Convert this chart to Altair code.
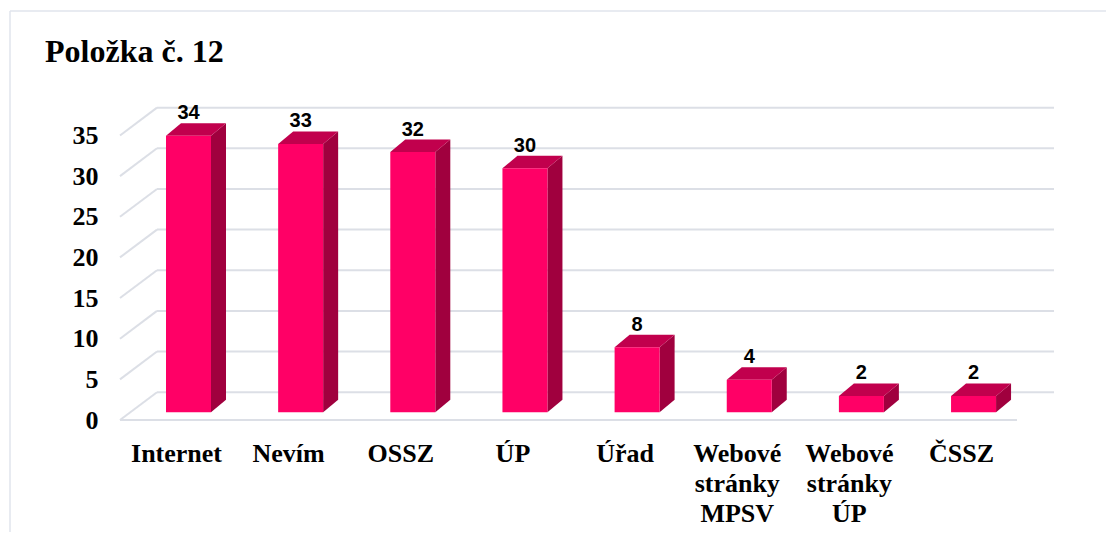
import altair as alt
import pandas as pd

# ---------------- data ----------------
categories = ["Internet", "Nevím", "OSSZ", "ÚP", "Úřad",
              "Webové\nstránky\nMPSV", "Webové\nstránky\nÚP", "ČSSZ"]
values = [34, 33, 32, 30, 8, 4, 2, 2]
y_ticks = [0, 5, 10, 15, 20, 25, 30, 35]
title_text = "Položka č. 12"

# ---------------- geometry (pixel-based layout constants) ----------------
W, H = 934, 312
STEP_PX = 112.15          # px per category
PX_PER_UNIT = 8.13        # px per value unit
X_MIN = (120 - 188.5) / STEP_PX
X_MAX = X_MIN + W / STEP_PX
Y_MAX = H / PX_PER_UNIT
FLOOR_DX = 37 / STEP_PX
FLOOR_DY = 27.8 / PX_PER_UNIT
FLOOR_END = (1017 - 188.5) / STEP_PX
BAR_HALF = 22.5 / STEP_PX
BAR_BASE = 7.8 / PX_PER_UNIT
BAR_DX = 15 / STEP_PX
BAR_DY = 12.5 / PX_PER_UNIT
LABEL_SHIFT = 12 / STEP_PX

FRONT = "#ff0066"
TOP = "#c1004d"
SIDE = "#a0003e"
GRID = "#dcdfe6"
SERIF = "Liberation Serif"
SANS = "Liberation Sans"

xs = alt.Scale(domain=[X_MIN, X_MAX], nice=False, zero=False)
ys = alt.Scale(domain=[0, Y_MAX], nice=False, zero=False)
Y_AXIS = alt.Axis(
    values=y_ticks, grid=False, domain=False, ticks=False, title=None,
    labelFont=SERIF, labelFontSize=26, labelFontWeight="bold",
    labelColor="black", labelPadding=22)

# ---------------- tables built from the arrays ----------------
front_rows, top_rows, side_rows, lab_rows, cat_rows = [], [], [], [], []
for i, (c, v) in enumerate(zip(categories, values)):
    xl, xr = i - BAR_HALF, i + BAR_HALF
    yb, yt = BAR_BASE, v + BAR_BASE
    front_rows.append(dict(cat=c, x=xl, x2=xr, y=yb, y2=yt))
    top_rows += [
        dict(cat=c, x=xl, lo=yt, hi=yt),
        dict(cat=c, x=xl + BAR_DX, lo=yt, hi=yt + BAR_DY),
        dict(cat=c, x=xr, lo=yt, hi=yt + BAR_DY),
        dict(cat=c, x=xr + BAR_DX, lo=yt + BAR_DY, hi=yt + BAR_DY),
    ]
    side_rows += [
        dict(cat=c, x=xr, lo=yb, hi=yt),
        dict(cat=c, x=xr + BAR_DX, lo=yb + BAR_DY, hi=yt + BAR_DY),
    ]
    lab_rows.append(dict(cat=c, x=i, y=yt + BAR_DY, t=str(v)))
    cat_rows.append(dict(cat=c, x=i - LABEL_SHIFT, y=0))

front_df = pd.DataFrame(front_rows)
top_df = pd.DataFrame(top_rows)
side_df = pd.DataFrame(side_rows)
lab_df = pd.DataFrame(lab_rows)
cat_df = pd.DataFrame(cat_rows)

grid_back = pd.DataFrame([dict(x=X_MIN + FLOOR_DX, x2=X_MAX, y=v + FLOOR_DY) for v in y_ticks])
grid_diag = pd.DataFrame([dict(x=X_MIN, x2=X_MIN + FLOOR_DX, y=v, y2=v + FLOOR_DY) for v in y_ticks])
floor_df = pd.DataFrame([dict(x=X_MIN, x2=FLOOR_END, y=0)])


def X(f):
    return alt.X(f, scale=xs, axis=None)


def Y(f):
    return alt.Y(f, scale=ys, axis=Y_AXIS)


# ---------------- layers ----------------
back = alt.Chart(grid_back).mark_rule(color=GRID, strokeWidth=2).encode(
    x=X("x:Q"), x2="x2:Q", y=Y("y:Q"))
diag = alt.Chart(grid_diag).mark_rule(color=GRID, strokeWidth=2).encode(
    x=X("x:Q"), x2="x2:Q", y=Y("y:Q"), y2="y2:Q")
floor = alt.Chart(floor_df).mark_rule(color=GRID, strokeWidth=2).encode(
    x=X("x:Q"), x2="x2:Q", y=Y("y:Q"))

side = alt.Chart(side_df).mark_area(color=SIDE, interpolate="linear").encode(
    x=X("x:Q"), y=Y("lo:Q"), y2="hi:Q", detail="cat:N")
top = alt.Chart(top_df).mark_area(color=TOP, interpolate="linear").encode(
    x=X("x:Q"), y=Y("lo:Q"), y2="hi:Q", detail="cat:N")
front = alt.Chart(front_df).mark_rect(color=FRONT).encode(
    x=X("x:Q"), x2="x2:Q", y=Y("y:Q"), y2="y2:Q")

vals = alt.Chart(lab_df).mark_text(
    font=SANS, fontSize=20, fontWeight="bold", color="black",
    baseline="alphabetic", align="center", dy=-4).encode(
    x=X("x:Q"), y=Y("y:Q"), text="t:N")

cats = alt.Chart(cat_df).mark_text(
    font=SERIF, fontSize=26, fontWeight="bold", color="black",
    baseline="top", align="center", lineBreak="\n", lineHeight=30, dy=21).encode(
    x=X("x:Q"), y=Y("y:Q"), text="cat:N")

title = alt.Chart(pd.DataFrame({"t": [title_text]})).mark_text(
    font=SERIF, fontSize=32, fontWeight="bold", color="black",
    align="left", baseline="alphabetic").encode(
    x=alt.value(-75), y=alt.value(-46), text="t:N")

frame_top = alt.Chart(pd.DataFrame({"a": [0]})).mark_rule(color="#e1e5ec", strokeWidth=1.5).encode(
    x=alt.value(-110), x2=alt.value(W + 60), y=alt.value(-97))
frame_left = alt.Chart(pd.DataFrame({"a": [0]})).mark_rule(color="#e1e5ec", strokeWidth=1.5).encode(
    x=alt.value(-110), y=alt.value(-97), y2=alt.value(H + 120))

chart = alt.layer(
    frame_top, frame_left, back, diag, floor, side, top, front, vals, cats, title
).properties(
    width=W, height=H,
    padding={"left": 112, "top": 100, "right": 52, "bottom": 112},
    autosize=alt.AutoSizeParams(type="none"),
).configure_view(stroke=None)

chart.save("out.html", embed_options={"renderer": "svg", "actions": False})
